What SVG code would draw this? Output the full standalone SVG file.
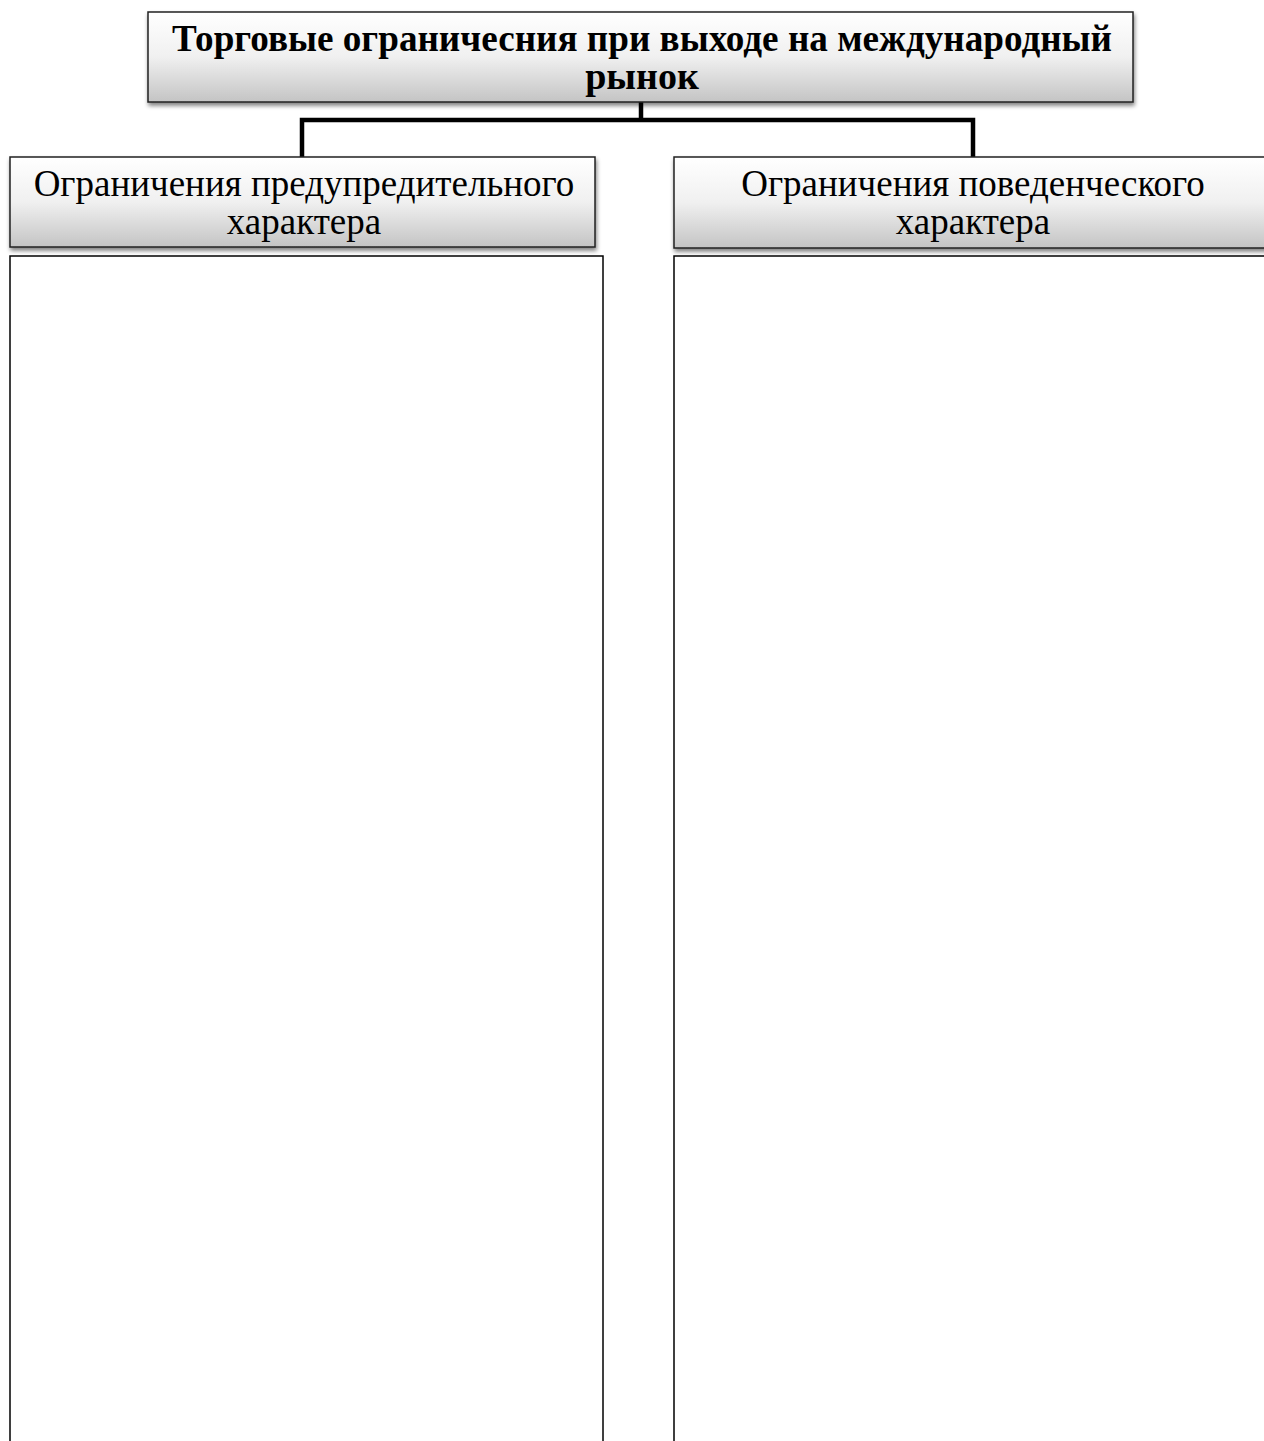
<svg xmlns="http://www.w3.org/2000/svg" width="1264" height="1441" viewBox="0 0 1264 1441">
<defs>
<linearGradient id="g" x1="0" y1="0" x2="0" y2="1">
<stop offset="0" stop-color="#ffffff"/>
<stop offset="0.5" stop-color="#f0f0f0"/>
<stop offset="1" stop-color="#c4c4c4"/>
</linearGradient>
<filter id="sh" x="-5%" y="-10%" width="110%" height="130%">
<feGaussianBlur in="SourceAlpha" stdDeviation="2"/>
<feOffset dx="1" dy="3" result="b"/>
<feComponentTransfer><feFuncA type="linear" slope="0.5"/></feComponentTransfer>
<feMerge><feMergeNode/><feMergeNode in="SourceGraphic"/></feMerge>
</filter>
</defs>
<style>
.hdr{fill:url(#g);stroke:#222;stroke-width:1.5;filter:url(#sh)}
.box{fill:#fff;stroke:#000;stroke-width:1.5}
.t{font-family:"Liberation Serif","Times New Roman",serif;font-size:37px;fill:#000;text-anchor:middle}
.b{font-weight:bold;font-size:38px}
.c{fill:none;stroke:#000;stroke-width:4.5}
</style>
<g id="connectors">
<path class="c" d="M641 102 V120"/>
<path class="c" d="M302 157 V120 H973 V157"/>
</g>
<g id="root">
<rect class="hdr" x="148" y="12" width="985" height="90"/>
<text class="t b" x="642" y="51" textLength="940" lengthAdjust="spacingAndGlyphs">Торговые ограничесния при выходе на международный</text>
<text class="t b" x="642" y="89">рынок</text>
</g>
<g id="left-header">
<rect class="hdr" x="10" y="157" width="585" height="90"/>
<text class="t" x="304" y="196">Ограничения предупредительного</text>
<text class="t" x="304" y="234">характера</text>
</g>
<g id="right-header">
<rect class="hdr" x="674" y="157" width="600" height="91"/>
<text class="t" x="973" y="196">Ограничения поведенческого</text>
<text class="t" x="973" y="234">характера</text>
</g>
<g id="left-body">
<rect class="box" x="10" y="256" width="593" height="1200"/>
</g>
<g id="right-body">
<rect class="box" x="674" y="256" width="610" height="1200"/>
</g>
</svg>
